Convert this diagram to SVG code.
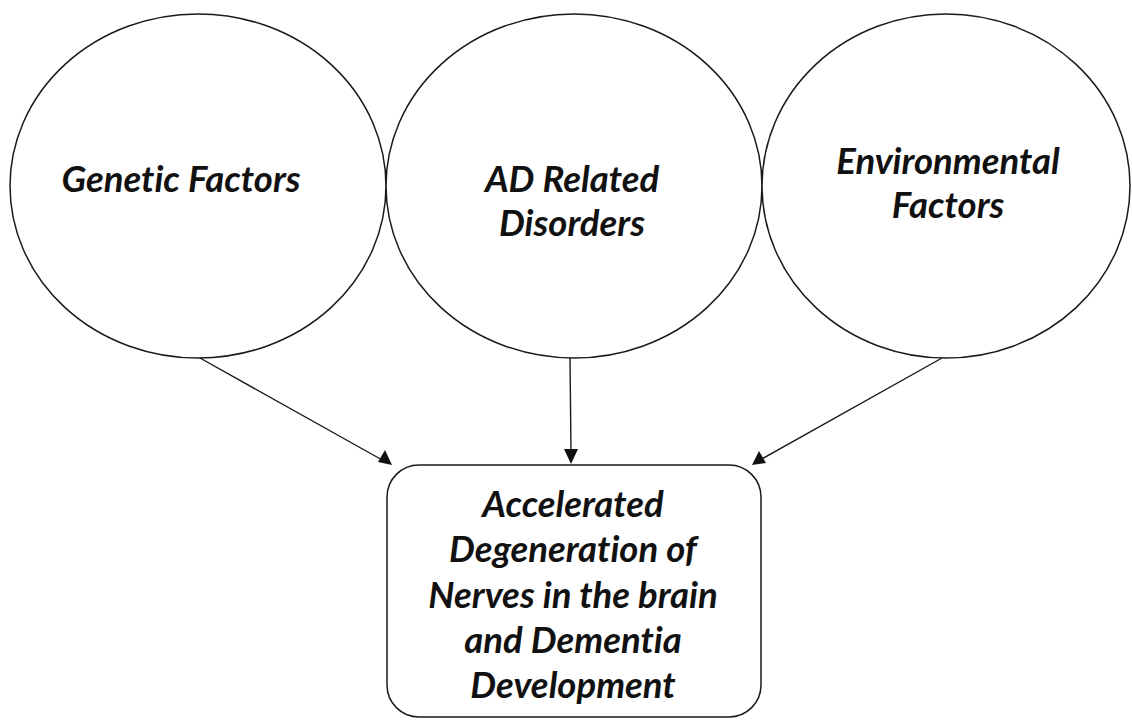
<svg xmlns="http://www.w3.org/2000/svg" width="1132" height="720" viewBox="0 0 1132 720">
  <style>
    .node { fill: #ffffff; stroke: #1a1a1a; stroke-width: 1.5; }
    .lbl { font-family: Lato, "Open Sans", "Liberation Sans", sans-serif; font-weight: bold; font-style: italic; font-size: 36.5px; fill: #111111; text-anchor: middle; font-variant-ligatures: none; }
    .edge { stroke: #1a1a1a; stroke-width: 1.4; fill: none; }
    .head { fill: #111111; }
  </style>
  <rect width="1132" height="720" fill="#ffffff"/>
  <g id="connectors">
    <line class="edge" x1="200" y1="358" x2="384" y2="461"/>
    <polygon class="head" points="392,465 378,462 385,450"/>
    <line class="edge" x1="570" y1="358" x2="571" y2="452"/>
    <polygon class="head" points="571,464 564,449 578,449"/>
    <line class="edge" x1="942" y1="358" x2="760" y2="460"/>
    <polygon class="head" points="752,465 759,451 766,463"/>
  </g>
  <g id="node-genetic">
    <ellipse class="node" cx="198" cy="186" rx="188" ry="172"/>
    <text class="lbl" x="181" y="192">Genetic Factors</text>
  </g>
  <g id="node-ad">
    <ellipse class="node" cx="574" cy="186" rx="188" ry="172"/>
    <text class="lbl" x="572" y="192">AD Related</text>
    <text class="lbl" x="572" y="236">Disorders</text>
  </g>
  <g id="node-env">
    <ellipse class="node" cx="946" cy="186" rx="184" ry="172"/>
    <text class="lbl" x="948" y="174">Environmental</text>
    <text class="lbl" x="948" y="218">Factors</text>
  </g>
  <g id="node-outcome">
    <rect class="node" x="387" y="465" width="374" height="252" rx="32" ry="32"/>
    <text class="lbl" x="573" y="517">Accelerated</text>
    <text class="lbl" x="573" y="562">Degeneration of</text>
    <text class="lbl" x="573" y="608">Nerves in the brain</text>
    <text class="lbl" x="573" y="653">and Dementia</text>
    <text class="lbl" x="573" y="698">Development</text>
  </g>
</svg>
